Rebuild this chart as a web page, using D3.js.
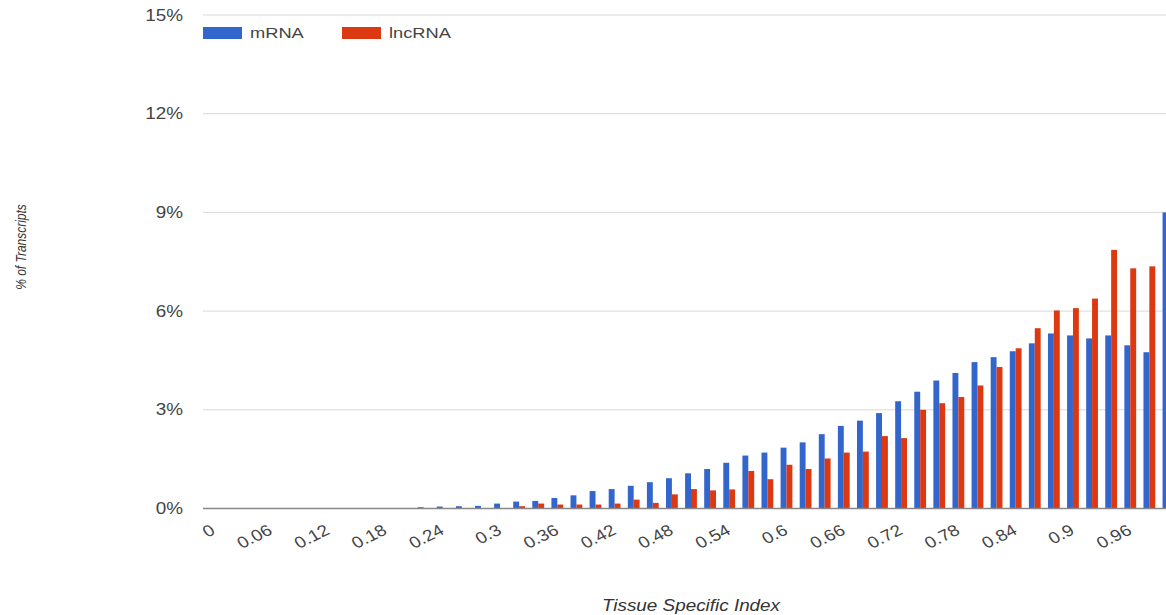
<!DOCTYPE html>
<html lang="en">
<head>
  <meta charset="UTF-8">
  <title>Tissue Specific Index</title>
  <script src="https://d3js.org/d3.v7.min.js"></script>
  <style>
  body{ margin:0; background:#fff; }
  text{ font-family: "Liberation Sans", Arial, sans-serif; fill:#444; }
  .grid line{ stroke:#d9d9d9; stroke-width:1; }
  </style>
</head>
<body>
  <div class="container"></div>
  <script>
  // categories (tissue specific index)
  var categories = ['0','0.02','0.04','0.06','0.08','0.1','0.12','0.14','0.16','0.18',
                    '0.2','0.22','0.24','0.26','0.28','0.3','0.32','0.34','0.36','0.38',
                    '0.4','0.42','0.44','0.46','0.48','0.5','0.52','0.54','0.56','0.58',
                    '0.6','0.62','0.64','0.66','0.68','0.7','0.72','0.74','0.76','0.78',
                    '0.8','0.82','0.84','0.86','0.88','0.9','0.92','0.94','0.96','0.98','1'];
  var tickLabels = ['0','0.06','0.12','0.18','0.24','0.3','0.36','0.42','0.48','0.54',
                    '0.6','0.66','0.72','0.78','0.84','0.9','0.96'];
  var yTicks = [0, 3, 6, 9, 12, 15];
  var seriesNames = ['mRNA', 'lncRNA'];
  // % of transcripts
  var mRNA = [0,0,0,0,0,0,0,0,0,0,
              0,0.04,0.06,0.07,0.08,0.15,0.21,0.23,0.32,0.40,
              0.53,0.59,0.69,0.80,0.92,1.07,1.20,1.39,1.61,1.70,
              1.85,2.01,2.26,2.51,2.67,2.90,3.26,3.55,3.89,4.12,
              4.45,4.60,4.78,5.02,5.32,5.26,5.17,5.26,4.96,4.75,9.0];
  var lncRNA = [0,0,0,0,0,0,0,0,0,0,
                0,0,0,0,0,0,0.07,0.15,0.12,0.12,
                0.12,0.15,0.27,0.17,0.43,0.59,0.55,0.58,1.14,0.89,
                1.33,1.20,1.52,1.70,1.73,2.20,2.14,3.00,3.20,3.39,
                3.74,4.30,4.87,5.48,6.02,6.09,6.38,7.86,7.30,7.36,9.5];
  var colors = ['#3366cc', '#dc3912'];

  var w = 1166, h = 615,
      margin = {top: 15, left: 203, bottom: 508.5, right: 1178};
  var sx = 1.18; // the picture is a bit wider than tall

  var xScale = d3.scaleBand()
                 .domain(categories)
                 .range([margin.left + 1, margin.right])
                 .paddingInner(0.382)
                 .paddingOuter(0.191);
  var xSeries = d3.scaleBand()
                  .domain(seriesNames)
                  .range([0, xScale.bandwidth()]);
  var yScale = d3.scaleLinear()
                 .domain([0, 15])
                 .range([margin.bottom, margin.top]);
  var color = d3.scaleOrdinal().domain(seriesNames).range(colors);

  var svg = d3.select('.container')
          .append('svg')
          .attr('width', w)
          .attr('height', h);

  // gridlines
  svg.append('g').attr('class', 'grid')
     .selectAll('line')
     .data(yTicks.filter(function(d){ return d > 0; }))
     .join('line')
     .attr('x1', margin.left).attr('x2', w)
     .attr('y1', function(d){ return yScale(d); })
     .attr('y2', function(d){ return yScale(d); });

  // bars
  var rows = categories.map(function(c, i){
      return {cat: c, values: [{s: 'mRNA', v: mRNA[i]}, {s: 'lncRNA', v: lncRNA[i]}]};
  });
  svg.append('g')
     .selectAll('g')
     .data(rows)
     .join('g')
     .attr('transform', function(d){ return 'translate(' + xScale(d.cat) + ',0)'; })
     .selectAll('rect')
     .data(function(d){ return d.values; })
     .join('rect')
     .attr('x', function(d){ return xSeries(d.s); })
     .attr('width', xSeries.bandwidth())
     .attr('y', function(d){ return yScale(d.v); })
     .attr('height', function(d){ return yScale(0) - yScale(d.v); })
     .style('fill', function(d){ return color(d.s); });

  // baseline
  svg.append('line')
     .attr('x1', margin.left).attr('x2', w)
     .attr('y1', yScale(0)).attr('y2', yScale(0))
     .style('stroke', '#888').style('stroke-width', 1.3);

  // y axis
  var yAxis = d3.axisLeft(yScale).tickValues(yTicks)
                .tickFormat(function(d){ return d + '%'; })
                .tickSize(0).tickPadding(0);
  var gy = svg.append('g')
              .attr('transform', 'translate(' + (margin.left - 20) + ',0)')
              .call(yAxis);
  gy.select('.domain').remove();
  gy.selectAll('text')
    .attr('x', 0)
    .attr('transform', 'scale(' + sx + ',1)')
    .style('font-size', '16px')
    .style('fill', '#444');

  // x axis
  var xAxis = d3.axisBottom(xScale).tickValues(tickLabels).tickSize(0);
  var gx = svg.append('g')
              .attr('transform', 'translate(0,' + yScale(0) + ')')
              .call(xAxis);
  gx.select('.domain').remove();
  gx.selectAll('text')
    .attr('x', null).attr('y', null).attr('dy', '0.71em')
    .attr('text-anchor', 'end')
    .attr('transform', 'translate(-4,15) scale(' + sx + ',1) rotate(-30)')
    .style('font-size', '16px')
    .style('fill', '#444');

  // legend
  var legend = svg.append('g')
      .selectAll('g')
      .data(seriesNames)
      .join('g')
      .attr('transform', function(d, i){ return 'translate(' + (203 + i * 139) + ',27)'; });
  legend.append('rect')
        .attr('width', 39).attr('height', 12)
        .style('fill', function(d){ return color(d); });
  legend.append('text')
        .text(function(d){ return d; })
        .attr('transform', 'translate(47,6) scale(' + sx + ',1)')
        .attr('dy', '0.35em')
        .style('font-size', '15.5px');

  // axis titles
  svg.append('text')
     .text('Tissue Specific Index')
     .attr('transform', 'translate(691,611) scale(' + sx + ',1)')
     .attr('text-anchor', 'middle')
     .style('font-size', '16px')
     .style('font-style', 'italic')
     .style('fill', '#333');
  svg.append('text')
     .text('% of Transcripts')
     .attr('transform', 'translate(26,247) scale(' + sx + ',1) rotate(-90)')
     .attr('text-anchor', 'middle')
     .style('font-size', '12px')
     .style('font-style', 'italic')
     .style('fill', '#333');
  </script>
</body>
</html>
